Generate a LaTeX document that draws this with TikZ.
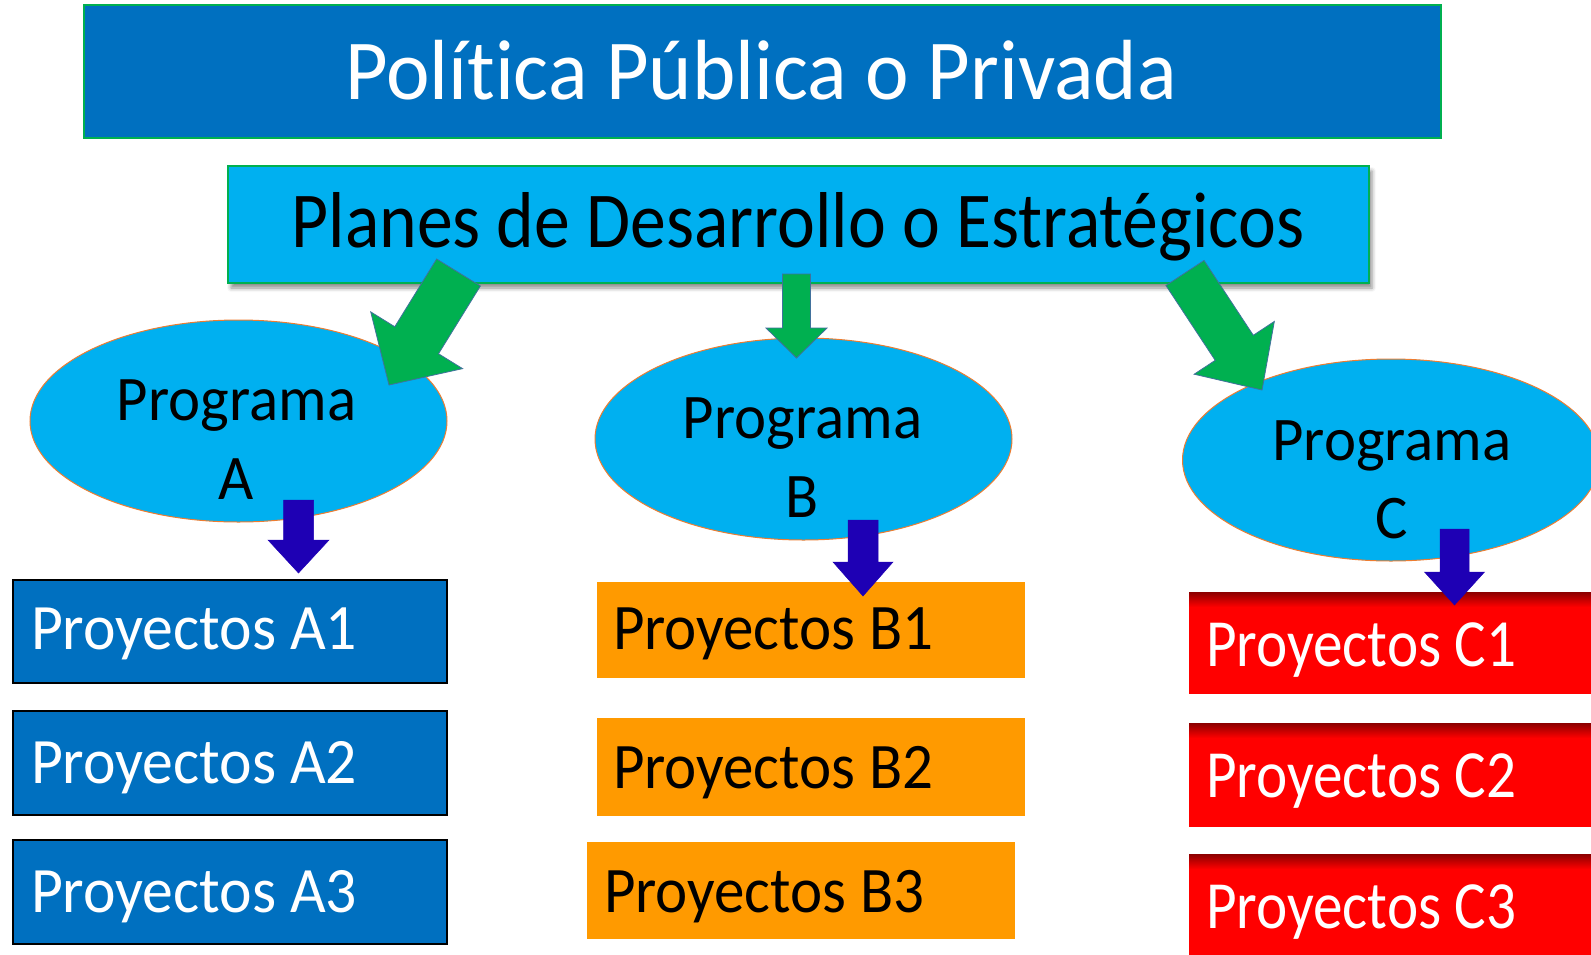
\documentclass[tikz,border=0pt]{standalone}
\usepackage{fontspec}
\setmainfont{Carlito}[Ligatures={NoCommon}]
\usetikzlibrary{shapes.geometric,calc,shadows.blur}

\definecolor{titleblue}{HTML}{0070C0}
\definecolor{skyblue}{HTML}{00B0F0}
\definecolor{edgegreen}{HTML}{00B050}
\definecolor{arrowgreen}{HTML}{00B050}
\definecolor{arrowedge}{HTML}{41719C}
\definecolor{ellipseedge}{HTML}{ED7D31}
\definecolor{orangebox}{HTML}{FF9A00}
\definecolor{redbox}{HTML}{FF0000}
\definecolor{darkredtop}{HTML}{8B0000}
\definecolor{arrowblue}{HTML}{1E00B4}

% #1 style, #2 tail coordinate, #3 tip coordinate, #4 half shaft width, #5 half head width, #6 head length
\newcommand\blockarrow[6]{%
  \coordinate (#2-hb) at ($(#3)!#6!(#2)$);
  \path[#1] ($(#2)!#4!90:(#3)$) -- ($(#2-hb)!#4!90:(#3)$) -- ($(#2-hb)!#5!90:(#3)$)
    -- (#3) -- ($(#2-hb)!#5!-90:(#3)$) -- ($(#2-hb)!#4!-90:(#3)$) -- ($(#2)!#4!-90:(#3)$) -- cycle;}

\begin{document}
\begin{tikzpicture}[x=1pt,y=-1pt,
  every node/.style={inner sep=0pt, outer sep=0pt},
  titlebox/.style={draw=edgegreen, line width=1.5pt, fill=titleblue, anchor=north west},
  planbox/.style={draw=edgegreen, line width=1.5pt, fill=skyblue, anchor=north west,
     blur shadow={shadow xshift=3pt, shadow yshift=-5pt, shadow blur radius=4pt, shadow opacity=45}},
  progell/.style={ellipse, draw=ellipseedge, line width=1pt, fill=skyblue,
     minimum width=417pt, minimum height=202pt},
  boxA/.style={draw=black, line width=1.5pt, fill=titleblue, anchor=north west},
  boxB/.style={fill=orangebox, anchor=north west},
  boxC/.style={fill=redbox, anchor=north west},
  garrow/.style={fill=arrowgreen, draw=arrowedge, line width=0.8pt, line join=miter},
  barrow/.style={fill=arrowblue, draw=arrowblue, line width=0.5pt, line join=miter},
  fontA/.style={font=\fontsize{61.7}{72}\selectfont, text=white, anchor=base west},
  fontB/.style={font=\fontsize{61}{72}\selectfont, text=black, anchor=base west},
  fontC/.style={font=\fontsize{59.2}{72}\selectfont, text=white, anchor=base west},
  progfont/.style={font=\fontsize{60.8}{76.5}\selectfont, anchor=base},
]
\useasboundingbox (0,0) rectangle (1591,954);
\clip (0,0) rectangle (1591,954);

% top boxes
\node[titlebox, minimum width=1357pt, minimum height=133pt] (pol) at (84,5) {};
\node[text=white, anchor=base, font=\fontsize{82.5}{92}\selectfont] (tpol) at (761,99)
  {\scalebox{1}[1.035]{Política Pública o Privada}};

\node[planbox, minimum width=1141pt, minimum height=117pt] (plan) at (228,166) {};
\node[text=black, anchor=base, font=\fontsize{71.7}{82}\selectfont] (tplan) at (798,247)
  {\scalebox{1}[1.105]{Planes de Desarrollo o Estratégicos}};

% programs
\node[progell] (pA) at (238.5,421) {};
\node[progell] (pB) at (803.5,439) {};
\node[progell] (pC) at (1391,460) {};
\node[progfont] (tpA) at (236.5,420)
  {\scalebox{1}[1.045]{\begin{tabular}[t]{@{}c@{}}Programa\\A\end{tabular}}};
\node[progfont] (tpB) at (802.5,438)
  {\scalebox{1}[1.045]{\begin{tabular}[t]{@{}c@{}}Programa\\B\end{tabular}}};
\node[progfont] (tpC) at (1392,460)
  {\scalebox{1}[1.02]{\begin{tabular}[t]{@{}c@{}}Programa\\C\end{tabular}}};

% project boxes A
\node[boxA, minimum width=434pt, minimum height=103pt] (bA1) at (13,580) {};
\node[boxA, minimum width=434pt, minimum height=104pt] (bA2) at (13,711) {};
\node[boxA, minimum width=434pt, minimum height=104pt] (bA3) at (13,840) {};
\node[fontA] (tA1) at (31,649) {\scalebox{1}[1.05]{Proyectos A1}};
\node[fontA] (tA2) at (31,783) {\scalebox{1}[1.05]{Proyectos A2}};
\node[fontA] (tA3) at (31,912) {\scalebox{1}[1.05]{Proyectos A3}};

% project boxes B
\node[boxB, minimum width=428pt, minimum height=96pt] (bB1) at (597,582) {};
\node[boxB, minimum width=428pt, minimum height=98pt] (bB2) at (597,718) {};
\node[boxB, minimum width=428pt, minimum height=97pt] (bB3) at (587,842) {};
\node[fontB] (tB1) at (613,649) {\scalebox{1}[1.065]{Proyectos B1}};
\node[fontB] (tB2) at (613,788) {\scalebox{1}[1.065]{Proyectos B2}};
\node[fontB] (tB3) at (604,912) {\scalebox{1}[1.065]{Proyectos B3}};

% project boxes C
\node[boxC, minimum width=420pt, minimum height=102pt] (bC1) at (1189,592) {};
\node[boxC, minimum width=420pt, minimum height=104pt] (bC2) at (1189,723) {};
\node[boxC, minimum width=420pt, minimum height=110pt] (bC3) at (1189,854) {};
\foreach \b in {bC1,bC2,bC3}{
  \shade[top color=darkredtop, bottom color=redbox] (\b.north west) rectangle ($(\b.north east)+(0,15)$);
}
\node[fontC] (tC1) at (1206,666) {\scalebox{1}[1.14]{Proyectos C1}};
\node[fontC] (tC2) at (1206,797) {\scalebox{1}[1.14]{Proyectos C2}};
\node[fontC] (tC3) at (1206,928) {\scalebox{1}[1.14]{Proyectos C3}};

% green block arrows
\coordinate (gA0) at (458.5,272.5);
\coordinate (gA1) at (389,385);
\coordinate (gB0) at (796.5,274);
\coordinate (gB1) at (796.5,358);
\coordinate (gC0) at (1185,273);
\coordinate (gC1) at (1262,390);
\blockarrow{garrow}{gA0}{gA1}{25.7pt}{54pt}{52.6pt}
\blockarrow{garrow}{gB0}{gB1}{14pt}{30.5pt}{30pt}
\blockarrow{garrow}{gC0}{gC1}{22.8pt}{48pt}{50.5pt}

% blue block arrows
\coordinate (bA0) at (298.5,500);
\coordinate (bA1) at (298.5,573);
\coordinate (bB0) at (863,520);
\coordinate (bB1) at (863,596);
\coordinate (bC0) at (1454.5,529);
\coordinate (bC1) at (1454.5,605);
\blockarrow{barrow}{bA0}{bA1}{15pt}{30.5pt}{33pt}
\blockarrow{barrow}{bB0}{bB1}{15pt}{30pt}{34pt}
\blockarrow{barrow}{bC0}{bC1}{14.5pt}{30pt}{33pt}
\end{tikzpicture}
\end{document}
